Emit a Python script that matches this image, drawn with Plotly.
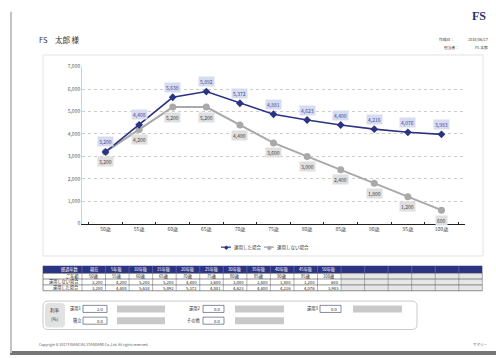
import plotly.graph_objects as go

# ---- data ----
ages = ["50歳", "55歳", "60歳", "65歳", "70歳", "75歳", "80歳", "85歳", "90歳", "95歳", "100歳"]
elapsed = ["現在", "5年後", "10年後", "15年後", "20年後", "25年後", "30年後", "35年後", "40年後", "45年後", "50年後"]
invested = [3200, 4408, 5638, 5892, 5372, 4881, 4623, 4400, 4216, 4076, 3983]
not_invested = [3200, 4200, 5200, 5200, 4400, 3600, 3000, 2400, 1800, 1200, 600]
y_ticks = [0, 1000, 2000, 3000, 4000, 5000, 6000, 7000]
series_names = ["運用した場合", "運用しない場合"]
rate_labels = ["運用1", "積立", "運用2", "その他", "運用3"]
rate_values = [2.0, 0.0, 0.0, 0.0, 0.0]

W, H = 496, 358
NAVY = "#2b3483"
GRAY = "#a9a9a9"
FONT = "Noto Sans CJK JP, Noto Sans, sans-serif"


def px(x):
    return x / W


def py(y):
    return 1 - y / H


annotations = []
shapes = []


def text(x, y, s, size=5, color="#333333", xanchor="center", family=FONT):
    annotations.append(dict(
        x=px(x), y=py(y), xref="paper", yref="paper", text=s, showarrow=False,
        font=dict(size=size, color=color, family=family),
        xanchor=xanchor, yanchor="middle", borderpad=0))


def rect(x0, y0, x1, y1, fill=None, line=None, lw=0.6, layer="below"):
    shapes.append(dict(
        type="rect", xref="paper", yref="paper",
        x0=px(x0), x1=px(x1), y0=py(y1), y1=py(y0),
        fillcolor=fill or "rgba(0,0,0,0)",
        line=dict(color=line or "rgba(0,0,0,0)", width=lw if line else 0),
        layer=layer))


def hline(x0, x1, y, color, lw=0.6):
    shapes.append(dict(type="line", xref="paper", yref="paper",
                       x0=px(x0), x1=px(x1), y0=py(y), y1=py(y),
                       line=dict(color=color, width=lw)))


def vline(x, y0, y1, color, lw=0.6):
    shapes.append(dict(type="line", xref="paper", yref="paper",
                       x0=px(x), x1=px(x), y0=py(y0), y1=py(y1),
                       line=dict(color=color, width=lw)))


def round_rect(x0, y0, x1, y1, r, fill=None, line=None, lw=0.8):
    rx, ry = r / W, r / H
    X0, X1, Y0, Y1 = px(x0), px(x1), py(y1), py(y0)
    path = (f"M {X0 + rx},{Y0} L {X1 - rx},{Y0} Q {X1},{Y0} {X1},{Y0 + ry} "
            f"L {X1},{Y1 - ry} Q {X1},{Y1} {X1 - rx},{Y1} "
            f"L {X0 + rx},{Y1} Q {X0},{Y1} {X0},{Y1 - ry} "
            f"L {X0},{Y0 + ry} Q {X0},{Y0} {X0 + rx},{Y0} Z")
    shapes.append(dict(type="path", xref="paper", yref="paper", path=path,
                       fillcolor=fill or "rgba(0,0,0,0)",
                       line=dict(color=line or "rgba(0,0,0,0)", width=lw if line else 0),
                       layer="below"))


# ---- chart ----
fig = go.Figure()
fig.add_trace(go.Scatter(
    x=ages, y=not_invested, name=series_names[1], mode="lines+markers",
    line=dict(color=GRAY, width=2), marker=dict(symbol="circle", size=7, color=GRAY),
    showlegend=False, hoverinfo="skip"))
fig.add_trace(go.Scatter(
    x=ages, y=invested, name=series_names[0], mode="lines+markers",
    line=dict(color=NAVY, width=1.6), marker=dict(symbol="diamond", size=6, color=NAVY),
    showlegend=False, hoverinfo="skip"))

# value labels
for a, v in zip(ages, invested):
    annotations.append(dict(x=a, y=v, xref="x", yref="y", text=f"{v:,}", showarrow=False,
                            yshift=10, font=dict(size=5, color="#3d4c9e", family=FONT),
                            bgcolor="#d7dbf0", borderpad=1))
for a, v in zip(ages, not_invested):
    annotations.append(dict(x=a, y=v, xref="x", yref="y", text=f"{v:,}", showarrow=False,
                            yshift=-10, font=dict(size=5, color="#444444", family=FONT),
                            bgcolor="#dfdfdf", borderpad=1))

# chart frame
rect(43, 52, 483, 257, line="#e3e3e3", lw=1)

# legend
hline(221, 231, 248, NAVY, 1.2)
text(226, 248, "◆", size=4.5, color=NAVY)
text(233, 248, series_names[0], size=4.5, color="#333333", xanchor="left")
hline(264, 274, 248, GRAY, 1.4)
text(269, 248, "●", size=4.5, color=GRAY)
text(276, 248, series_names[1], size=4.5, color="#333333", xanchor="left")

# ---- page decoration ----
vline(11, 8, 356, "#c4c4c4", 2)
rect(10, 354, 496, 358, fill="#767676")
text(479, 12, "<b>FS</b>", size=12, color="#27306e", family="Liberation Serif, serif")
text(38, 36, "FS　太郎 様", size=7.5, color="#333333", xanchor="left")
text(455, 36.5, "作成日：", size=3.8, xanchor="right")
text(489, 36.5, "2018/06/27", size=3.8, xanchor="right")
text(460, 44.5, "担当者：", size=3.8, xanchor="right")
text(489, 44.5, "FS 太郎", size=3.8, xanchor="right")
text(38, 347, "Copyright © 2017 FINANCIAL STANDARD Co.,Ltd. All rights reserved.",
     size=3.5, color="#555555", xanchor="left")
text(489, 347, "サマリー", size=3.5, color="#555555", xanchor="right")

# ---- table ----
TX0, LABEL_W, CW, NCOL = 43, 39, 23.55, 17
TX1 = TX0 + LABEL_W + CW * NCOL
rows_y = [267, 274.5, 280.5, 286.5, 292.5]
col_x = [TX0 + LABEL_W + CW * i for i in range(NCOL + 1)]

rect(TX0, rows_y[0], TX1, rows_y[1], fill=NAVY)
for i in range(len(elapsed), NCOL):
    rect(col_x[i], rows_y[1], col_x[i + 1], rows_y[4], fill="#e6e6e6")
for x in col_x[:-1]:
    vline(x, rows_y[0], rows_y[1], "#7f88c4", 0.5)
for x in col_x:
    vline(x, rows_y[1], rows_y[4], "#666666", 0.5)
vline(TX0, rows_y[0], rows_y[4], "#444444", 0.6)
for y in rows_y[1:]:
    hline(TX0, TX1, y, "#444444", 0.6)

row_labels = ["経過年数", "ご年齢", series_names[1], series_names[0]]
for r, lab in enumerate(row_labels):
    yc = (rows_y[r] + rows_y[r + 1]) / 2
    text(TX0 + LABEL_W - 2, yc, lab, size=4.2,
         color="#ffffff" if r == 0 else "#222222", xanchor="right")
for i in range(len(elapsed)):
    cx = (col_x[i] + col_x[i + 1]) / 2
    text(cx, (rows_y[0] + rows_y[1]) / 2, elapsed[i], size=4.2, color="#ffffff")
    text(cx, (rows_y[1] + rows_y[2]) / 2, ages[i], size=4.2, color="#222222")
    text(col_x[i + 1] - 1.5, (rows_y[2] + rows_y[3]) / 2, f"{not_invested[i]:,}",
         size=4.2, color="#222222", xanchor="right")
    text(col_x[i + 1] - 1.5, (rows_y[3] + rows_y[4]) / 2, f"{invested[i]:,}",
         size=4.2, color="#222222", xanchor="right")

# ---- rate input panel ----
round_rect(43, 303, 417, 332, 5, fill="#ffffff", line="#bdbdbd", lw=0.8)
round_rect(45, 305, 65, 330, 4, fill="#e2e2e2")
text(55, 313, "利率", size=4.5, color="#333333")
text(55, 321.5, "(%)", size=4.5, color="#333333")

groups = [(82, 83, 107, 117, 165), (201, 203, 224, 235, 284), (319, 320, 341, 353, 402)]
row_c = [311, 323]
slots = [(0, 0), (0, 1), (1, 0), (1, 1), (2, 0)]
for (g, r), lab, val in zip(slots, rate_labels, rate_values):
    lx, bx0, bx1, gx0, gx1 = groups[g]
    yc = row_c[r]
    text(lx, yc, lab, size=4.2, color="#222222", xanchor="right")
    rect(bx0, yc - 3.6, bx1, yc + 3.6, fill="#ffffff", line="#3a4060", lw=0.6)
    text(bx1 - 3, yc, f"{val:.1f}", size=4.2, color="#222222", xanchor="right")
    rect(gx0, yc - 3.6, gx1, yc + 3.6, fill="#c9c9c9")

fig.update_layout(
    width=W, height=H, margin=dict(l=0, r=0, t=0, b=0),
    paper_bgcolor="#ffffff", plot_bgcolor="#ffffff",
    font=dict(family=FONT, size=5, color="#444444"),
    xaxis=dict(domain=[px(82), px(465)], type="category", tickson="boundaries",
               ticks="inside", ticklen=2, tickcolor="#222222", showline=True,
               linecolor="#222222", linewidth=1, showgrid=False,
               tickfont=dict(size=5, color="#444444"), fixedrange=True),
    yaxis=dict(domain=[py(224), py(64)], range=[0, 7000], tickvals=y_ticks,
               tickformat=",", showgrid=True, gridcolor="#cccccc", griddash="dot",
               gridwidth=0.6, zeroline=False, showline=True, linecolor="#d0d0d0",
               linewidth=0.6, ticks="", tickfont=dict(size=5, color="#555555"),
               fixedrange=True),
    annotations=annotations, shapes=shapes, showlegend=False,
)

fig.write_html("out.html")
